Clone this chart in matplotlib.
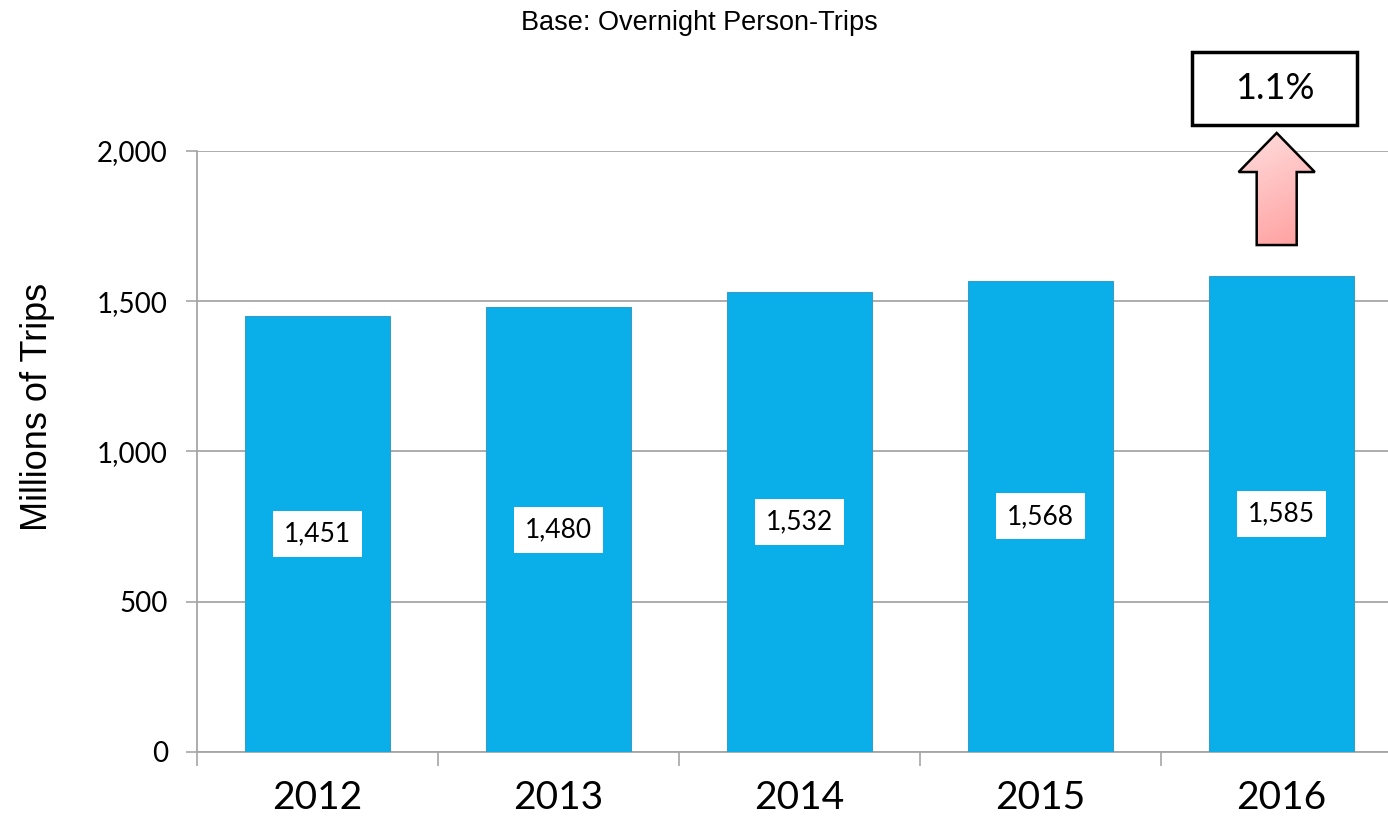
import matplotlib.pyplot as plt
import numpy as np
from matplotlib.patches import Polygon, Rectangle
from matplotlib.colors import LinearSegmentedColormap

years = ["2012", "2013", "2014", "2015", "2016"]
trips = [1451, 1480, 1532, 1568, 1585]
growth_label = "1.1%"

bar_color = "#0aaee8"
grid_color = "#a6a6a6"

fig = plt.figure(figsize=(13.88, 8.26), dpi=100)
ax = fig.add_axes([0.1419, 0.0896, 0.8682, 0.7276])

x = np.arange(len(years))
ax.bar(x, trips, width=0.6, color=bar_color, edgecolor="#3a9cc4", linewidth=0.8, zorder=3)

# value boxes in the middle of each bar
for xi, v in zip(x, trips):
    ax.text(xi, v / 2, "{:,}".format(v), ha="center", va="center", fontsize=19,
            family="Lato", zorder=5,
            bbox=dict(boxstyle="square,pad=0.4", facecolor="white", edgecolor="none"))

ax.set_xlim(-0.5, len(years) - 0.5)
ax.set_ylim(0, 2000)
ax.set_yticks([0, 500, 1000, 1500, 2000])
ax.set_yticklabels(["{:,}".format(t) for t in [0, 500, 1000, 1500, 2000]],
                   fontsize=20, family="Lato")
ax.set_xticks(x)
ax.set_xticklabels(years, fontsize=28, family="Lato")
ax.set_xticks(np.arange(-0.5, len(years)), minor=True)
ax.tick_params(axis="x", which="major", length=0, pad=20)
ax.tick_params(axis="x", which="minor", length=10, width=1.2, color=grid_color, direction="out")
ax.tick_params(axis="y", length=8, width=1.2, color=grid_color, pad=13)

ax.grid(axis="y", color=grid_color, linewidth=1.3, zorder=0)
ax.set_axisbelow(True)
for side in ["top", "right"]:
    ax.spines[side].set_visible(False)
for side in ["left", "bottom"]:
    ax.spines[side].set_color(grid_color)
    ax.spines[side].set_linewidth(1.3)

ax.set_ylabel("Millions of Trips", fontsize=26, family="Liberation Sans")
ax.yaxis.set_label_coords(-0.118, 0.574)

fig.text(0.504, 0.972, "Base: Overnight Person-Trips", ha="center", va="center",
         fontsize=19.5, family="Liberation Sans")

# growth arrow with pink gradient
cx = 3.98
tip, head, base = 2060, 1930, 1687
hw, sw = 0.158, 0.083
arrow_pts = [(cx, tip), (cx + hw, head), (cx + sw, head), (cx + sw, base),
             (cx - sw, base), (cx - sw, head), (cx - hw, head)]
arrow = Polygon(arrow_pts, closed=True, facecolor="none", edgecolor="black",
                linewidth=1.8, clip_on=False, zorder=6)
ax.add_patch(arrow)
grad = np.linspace(0, 1, 256).reshape(-1, 1) + np.linspace(0, 0.3, 256).reshape(1, -1)
pink = LinearSegmentedColormap.from_list("pink", ["#ff9e9e", "#ffdede"])
img = ax.imshow(grad[:, ::-1], cmap=pink, extent=(cx - hw, cx + hw, base, tip), origin="lower",
                aspect="auto", zorder=5)
img.set_clip_path(arrow)
img.set_clip_box(fig.bbox)

# growth box
box = Rectangle((3.63, 2087), 0.685, 242, facecolor="white", edgecolor="black",
                linewidth=2.5, clip_on=False, zorder=6)
ax.add_patch(box)
ax.text(3.63 + 0.685 / 2, 2087 + 121, growth_label, ha="center", va="center",
        fontsize=26, family="Lato", zorder=7, clip_on=False)

ax.set_xlim(-0.5, len(years) - 0.5)
ax.set_ylim(0, 2000)

fig.savefig("out.png", dpi=100)
